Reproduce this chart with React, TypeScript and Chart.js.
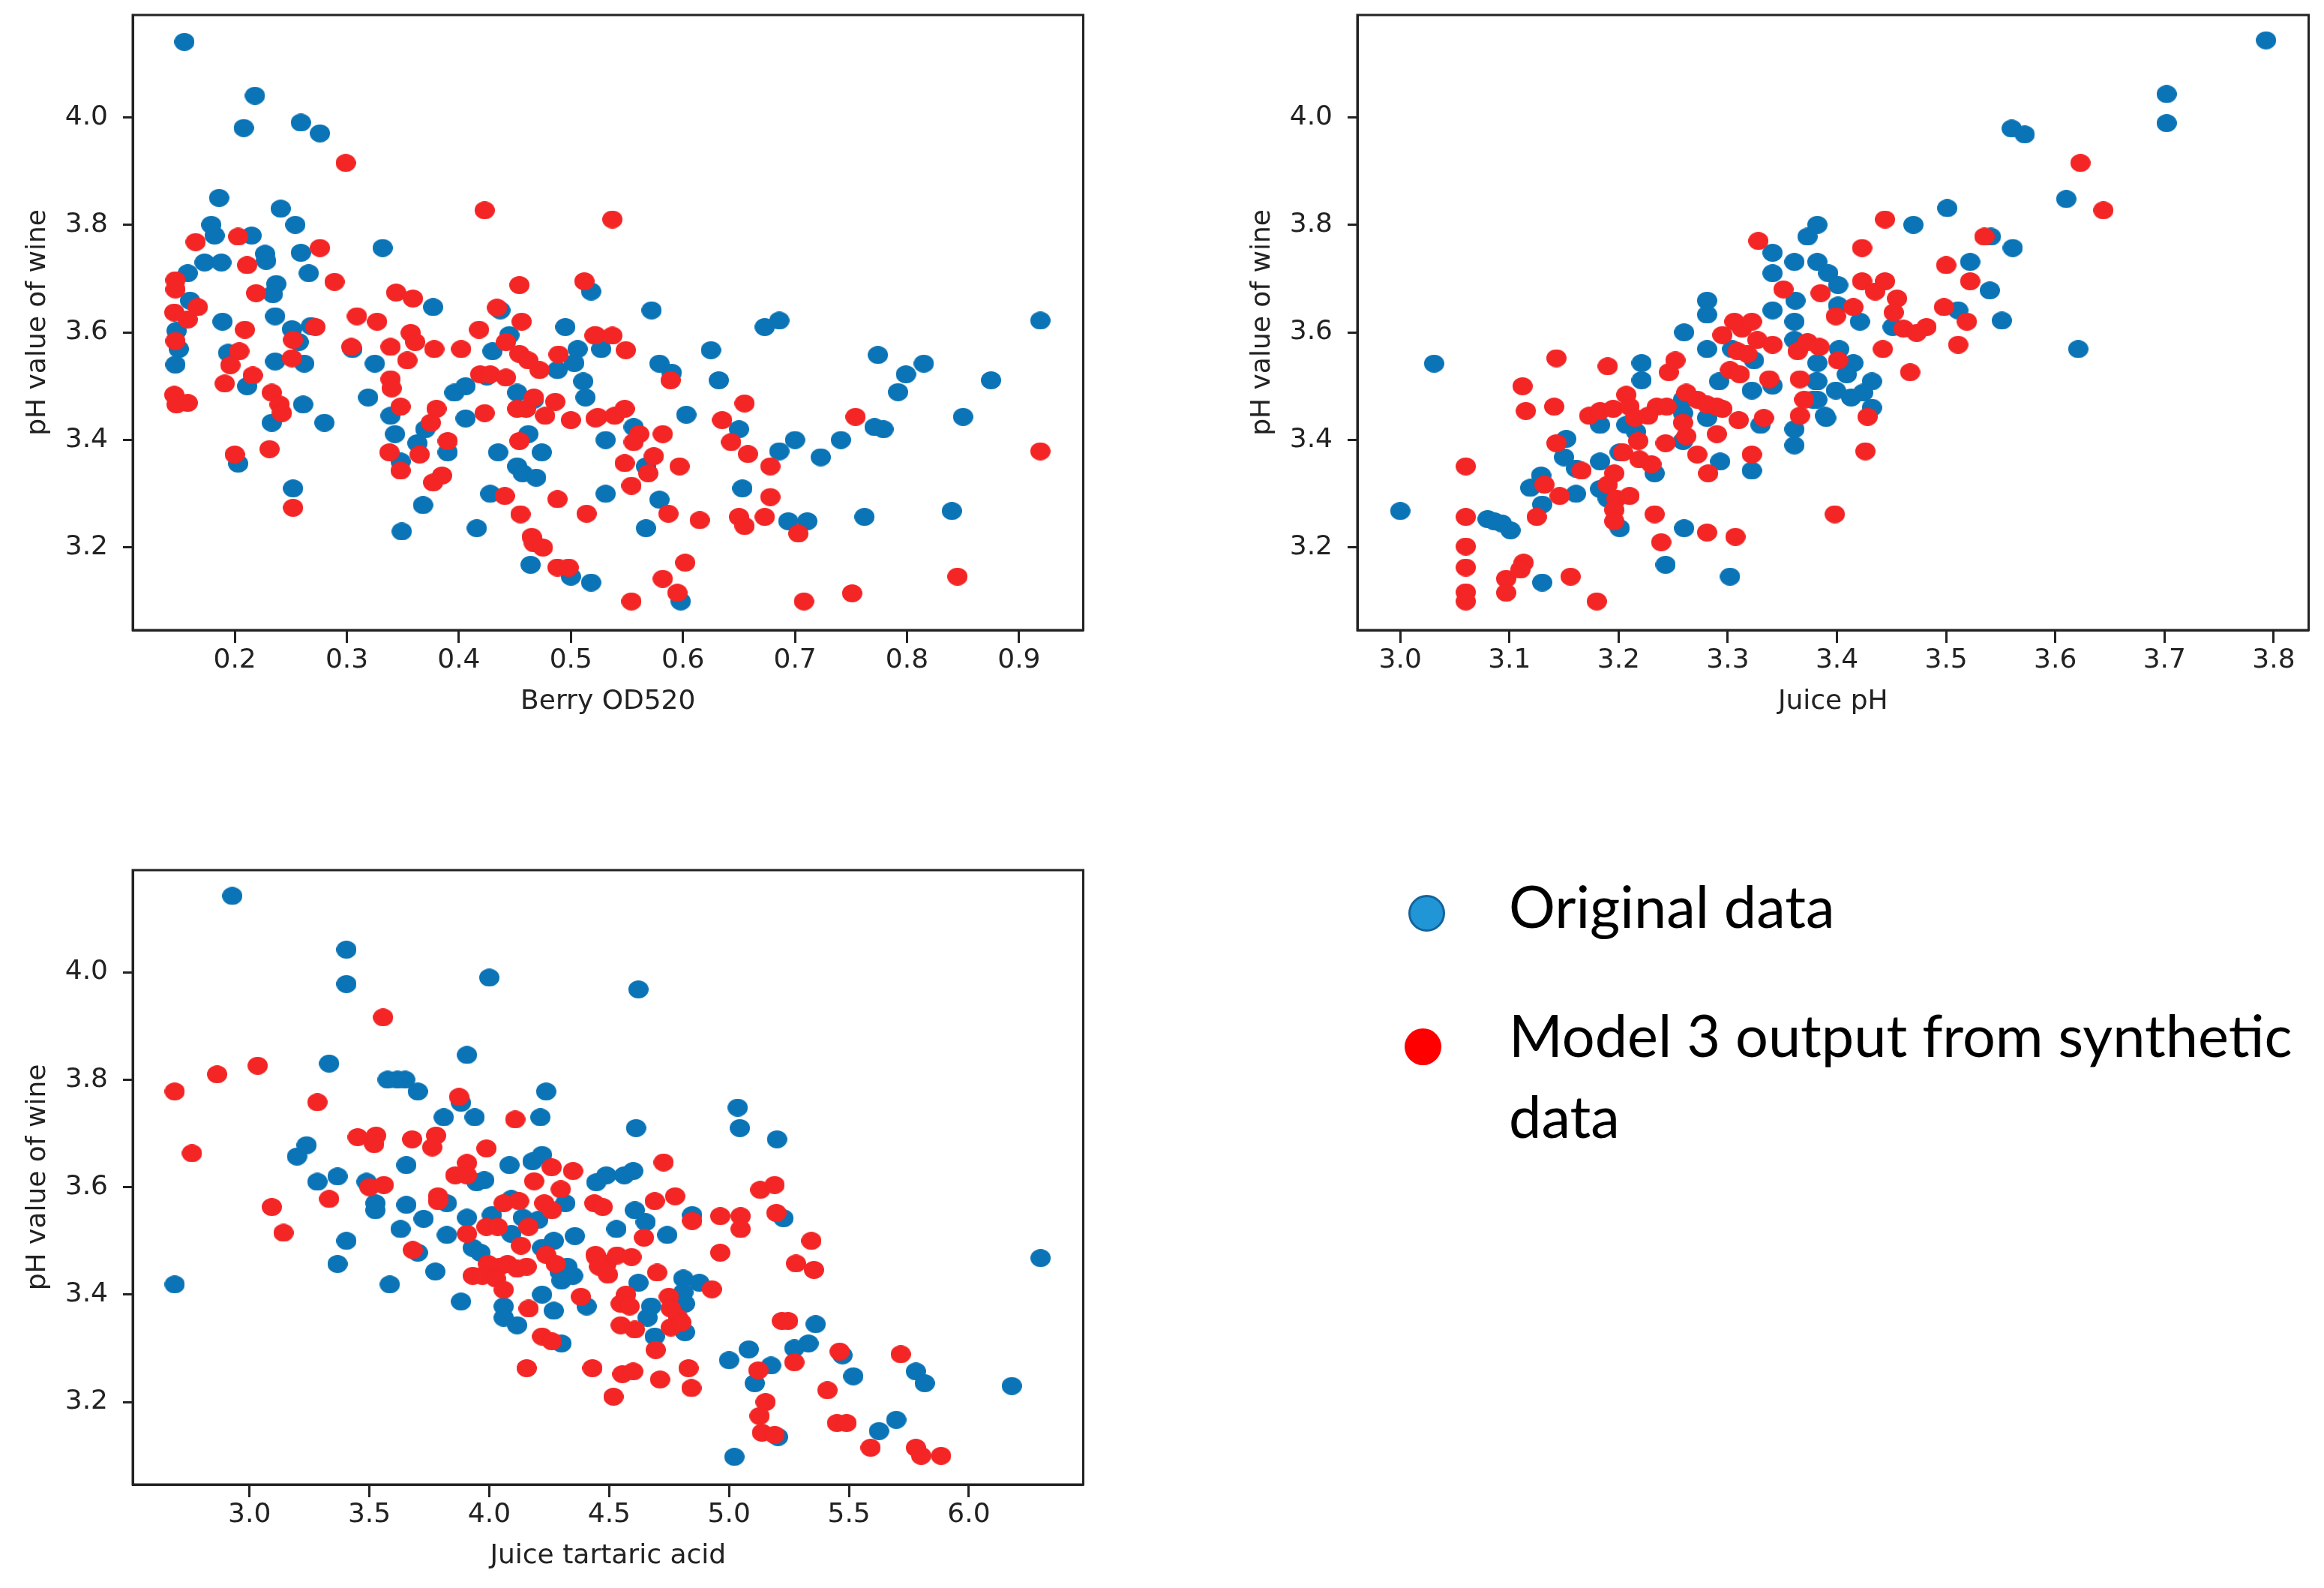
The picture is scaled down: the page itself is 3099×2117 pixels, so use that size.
import React, { useEffect, useRef } from "react";
import { Chart, registerables } from "chart.js";

Chart.register(...registerables);

// ---------------- DATA ----------------
const yTicks = [3.2, 3.4, 3.6, 3.8, 4.0];
const berryTicks = [0.2, 0.3, 0.4, 0.5, 0.6, 0.7, 0.8, 0.9];
const juicePhTicks = [3.0, 3.1, 3.2, 3.3, 3.4, 3.5, 3.6, 3.7, 3.8];
const tartaricTicks = [3.0, 3.5, 4.0, 4.5, 5.0, 5.5, 6.0];

const berryOriginal: [number, number][] = [
  [0.155,4.14],[0.218,4.04],[0.208,3.98],[0.259,3.99],[0.276,3.97],[0.186,3.85],[0.241,3.83],[0.254,3.80],[0.179,3.80],[0.182,3.78],
  [0.215,3.78],[0.173,3.73],[0.188,3.73],[0.227,3.746],[0.228,3.733],[0.259,3.748],[0.266,3.71],[0.158,3.71],[0.332,3.757],[0.237,3.69],
  [0.234,3.671],[0.236,3.63],[0.160,3.659],[0.189,3.62],[0.148,3.603],[0.150,3.569],[0.147,3.54],[0.194,3.562],[0.211,3.50],[0.236,3.546],
  [0.251,3.606],[0.257,3.582],[0.262,3.542],[0.268,3.612],[0.261,3.466],[0.280,3.432],[0.233,3.432],[0.203,3.356],[0.252,3.31],[0.305,3.569],
  [0.325,3.542],[0.319,3.479],[0.339,3.445],[0.343,3.411],[0.348,3.36],[0.349,3.23],[0.377,3.647],[0.363,3.394],[0.370,3.42],[0.390,3.377],
  [0.368,3.279],[0.396,3.488],[0.406,3.50],[0.406,3.44],[0.416,3.236],[0.425,3.518],[0.430,3.565],[0.437,3.641],[0.445,3.595],[0.435,3.377],
  [0.452,3.351],[0.457,3.338],[0.462,3.411],[0.469,3.33],[0.474,3.377],[0.428,3.30],[0.452,3.488],[0.467,3.475],[0.495,3.61],[0.488,3.53],
  [0.506,3.569],[0.503,3.543],[0.511,3.509],[0.513,3.479],[0.518,3.676],[0.500,3.146],[0.518,3.135],[0.464,3.168],
  [0.572,3.641],[0.527,3.569],[0.579,3.542],[0.590,3.525],[0.556,3.424],[0.531,3.40],[0.603,3.447],[0.625,3.567],[0.632,3.511],[0.650,3.42],
  [0.673,3.61],[0.686,3.622],[0.653,3.31],[0.686,3.379],[0.700,3.40],[0.723,3.368],[0.741,3.40],[0.774,3.558],[0.799,3.522],[0.815,3.542],
  [0.792,3.489],[0.771,3.424],[0.779,3.42],[0.875,3.511],[0.850,3.443],[0.919,3.622],[0.840,3.268],[0.762,3.257],[0.694,3.249],[0.711,3.249],
  [0.531,3.30],[0.567,3.236],[0.579,3.289],[0.567,3.351],[0.598,3.10],
];

const berryModel: [number, number][] = [
  [0.299,3.915],[0.423,3.827],[0.165,3.768],[0.203,3.778],[0.211,3.725],[0.276,3.757],[0.289,3.694],[0.219,3.673],[0.147,3.697],[0.147,3.68],
  [0.146,3.637],[0.158,3.624],[0.167,3.647],[0.147,3.584],[0.209,3.605],[0.204,3.565],[0.196,3.539],[0.191,3.505],[0.216,3.52],[0.146,3.484],
  [0.148,3.466],[0.158,3.469],[0.233,3.488],[0.240,3.466],[0.242,3.45],[0.252,3.586],[0.251,3.552],[0.272,3.61],[0.309,3.63],[0.327,3.62],
  [0.304,3.573],[0.344,3.674],[0.359,3.663],[0.339,3.573],[0.357,3.599],[0.361,3.582],[0.354,3.548],[0.378,3.569],[0.339,3.513],[0.340,3.496],
  [0.348,3.462],[0.338,3.377],[0.348,3.343],[0.365,3.373],[0.380,3.458],[0.375,3.432],[0.390,3.398],[0.377,3.321],[0.385,3.334],[0.402,3.569],
  [0.418,3.605],[0.434,3.646],[0.454,3.688],[0.456,3.62],[0.442,3.582],[0.423,3.45],[0.419,3.522],[0.428,3.522],[0.442,3.516],[0.454,3.56],
  [0.462,3.548],[0.472,3.53],[0.452,3.458],[0.460,3.458],[0.467,3.479],[0.477,3.445],[0.486,3.471],[0.489,3.559],[0.500,3.437],[0.512,3.695],
  [0.522,3.595],[0.522,3.44],[0.454,3.398],[0.441,3.296],[0.455,3.262],[0.488,3.29],[0.514,3.263],[0.465,3.22],[0.467,3.208],[0.475,3.20],
  [0.488,3.163],[0.498,3.163],[0.200,3.373],[0.231,3.383],[0.252,3.274],
  [0.537,3.81],[0.521,3.594],[0.537,3.594],[0.549,3.567],[0.589,3.511],[0.524,3.443],[0.539,3.445],[0.548,3.458],[0.561,3.411],[0.556,3.396],
  [0.582,3.411],[0.574,3.37],[0.548,3.357],[0.569,3.338],[0.554,3.315],[0.597,3.351],[0.635,3.437],[0.655,3.468],[0.643,3.396],[0.658,3.374],
  [0.678,3.351],[0.678,3.294],[0.587,3.263],[0.615,3.251],[0.650,3.257],[0.655,3.24],[0.673,3.257],[0.703,3.226],[0.754,3.443],[0.919,3.379],
  [0.845,3.146],[0.751,3.115],[0.708,3.10],[0.554,3.10],[0.582,3.142],[0.595,3.116],[0.602,3.172],
];

const juicePhOriginal: [number, number][] = [
  [3.031,3.542],[3.0,3.268],[3.08,3.253],[3.086,3.249],[3.093,3.245],[3.101,3.232],[3.13,3.135],[3.119,3.311],[3.129,3.334],[3.13,3.28],
  [3.152,3.402],[3.15,3.368],[3.161,3.347],[3.161,3.30],[3.183,3.36],[3.183,3.428],[3.183,3.309],[3.19,3.291],[3.201,3.377],[3.201,3.236],
  [3.207,3.428],[3.221,3.543],[3.221,3.511],[3.216,3.415],[3.233,3.338],[3.243,3.168],[3.26,3.60],[3.26,3.236],[3.259,3.45],[3.259,3.475],
  [3.259,3.398],[3.281,3.659],[3.281,3.633],[3.281,3.569],[3.281,3.441],[3.292,3.509],[3.293,3.36],[3.302,3.146],[3.304,3.569],[3.322,3.492],
  [3.324,3.548],[3.322,3.343],[3.33,3.428],[3.341,3.748],[3.341,3.71],[3.341,3.641],[3.341,3.501],[3.361,3.731],[3.362,3.659],[3.361,3.62],
  [3.361,3.586],[3.361,3.42],[3.361,3.39],[3.373,3.778],[3.382,3.80],[3.382,3.731],[3.392,3.71],[3.401,3.688],[3.382,3.543],[3.382,3.509],
  [3.382,3.475],[3.39,3.441],[3.401,3.65],
  [3.793,4.143],[3.702,4.043],[3.702,3.989],[3.56,3.979],[3.572,3.968],[3.61,3.848],[3.501,3.831],[3.47,3.80],[3.541,3.778],[3.561,3.757],
  [3.522,3.731],[3.54,3.678],[3.511,3.641],[3.551,3.622],[3.621,3.569],[3.421,3.62],[3.451,3.61],[3.402,3.569],[3.415,3.543],[3.409,3.522],
  [3.432,3.509],[3.399,3.492],[3.413,3.479],[3.424,3.488],[3.432,3.46],[3.389,3.445],[3.381,3.509],[3.378,3.475],
];

const juicePhModel: [number, number][] = [
  [3.143,3.552],[3.112,3.50],[3.115,3.454],[3.141,3.462],[3.143,3.394],[3.06,3.351],[3.06,3.257],[3.06,3.202],[3.06,3.163],[3.06,3.117],
  [3.06,3.10],[3.097,3.142],[3.097,3.116],[3.113,3.172],[3.11,3.159],[3.125,3.257],[3.132,3.317],[3.146,3.296],[3.156,3.146],[3.166,3.343],
  [3.18,3.10],[3.173,3.445],[3.183,3.454],[3.195,3.458],[3.19,3.537],[3.207,3.484],[3.21,3.462],[3.215,3.441],[3.196,3.338],[3.19,3.317],
  [3.198,3.291],[3.196,3.27],[3.196,3.249],[3.21,3.296],[3.204,3.377],[3.218,3.398],[3.219,3.364],[3.23,3.355],[3.235,3.462],[3.227,3.445],
  [3.244,3.462],[3.246,3.526],[3.252,3.548],[3.233,3.262],[3.239,3.21],[3.243,3.394],[3.259,3.432],[3.262,3.407],[3.262,3.488],[3.272,3.475],
  [3.281,3.466],[3.29,3.462],[3.295,3.458],[3.272,3.373],[3.282,3.338],[3.29,3.411],[3.281,3.228],[3.307,3.22],[3.295,3.595],[3.306,3.62],
  [3.313,3.607],[3.322,3.62],[3.309,3.565],[3.318,3.56],[3.327,3.586],[3.341,3.577],[3.302,3.53],[3.311,3.522],[3.31,3.437],[3.333,3.441],
  [3.338,3.513],[3.322,3.373],[3.328,3.77],[3.351,3.68],[3.385,3.673],[3.364,3.565],[3.373,3.582],[3.384,3.573],[3.366,3.513],[3.37,3.475],
  [3.366,3.445],[3.398,3.262],[3.401,3.548],
  [3.623,3.915],[3.644,3.827],[3.444,3.81],[3.535,3.778],[3.423,3.757],[3.50,3.725],[3.522,3.695],[3.423,3.695],[3.435,3.676],[3.444,3.695],
  [3.455,3.663],[3.452,3.637],[3.415,3.647],[3.399,3.63],[3.498,3.647],[3.519,3.62],[3.461,3.607],[3.473,3.599],[3.482,3.61],[3.511,3.577],
  [3.442,3.569],[3.467,3.526],[3.428,3.443],[3.426,3.379],
];

const tartaricOriginal: [number, number][] = [
  [2.928,4.142],[3.404,4.042],[3.404,3.978],[4.0,3.99],[3.332,3.83],[3.907,3.846],[4.237,3.778],[3.576,3.80],[3.617,3.80],[3.649,3.80],
  [3.702,3.778],[3.81,3.73],[3.882,3.757],[3.939,3.73],[4.213,3.73],[3.198,3.657],[3.238,3.678],[3.283,3.61],[3.367,3.62],[3.488,3.61],
  [3.525,3.57],[3.525,3.557],[3.654,3.641],[3.654,3.567],[3.726,3.541],[3.63,3.522],[3.702,3.478],[3.775,3.443],[3.585,3.419],[3.404,3.50],
  [3.367,3.457],[2.688,3.419],[3.882,3.387],[3.823,3.57],[3.823,3.511],[3.907,3.543],[3.947,3.609],[3.979,3.613],[3.931,3.487],[3.963,3.478],
  [4.011,3.548],[4.084,3.641],[4.092,3.578],[4.092,3.513],[4.06,3.378],[4.06,3.357],[4.116,3.343],[4.18,3.648],[4.22,3.66],[4.14,3.543],
  [4.204,3.539],[4.22,3.40],[4.269,3.37],[4.301,3.309],[4.22,3.487],[4.269,3.50],[4.317,3.57],[4.357,3.509],[4.293,3.443],[4.325,3.452],
  [4.349,3.435],[4.301,3.426],[4.406,3.378],[4.446,3.609],
  [4.622,3.968],[5.036,3.748],[5.045,3.71],[5.2,3.689],[4.612,3.71],[4.488,3.622],[4.563,3.622],[4.6,3.63],[4.607,3.557],[4.652,3.535],
  [4.53,3.522],[4.742,3.511],[4.846,3.548],[5.227,3.542],[4.622,3.422],[4.809,3.43],[4.809,3.404],[4.816,3.383],[4.876,3.422],[4.675,3.378],
  [4.66,3.357],[4.69,3.322],[4.816,3.33],[5.361,3.345],[5.331,3.309],[5.272,3.30],[5.082,3.298],[5.0,3.278],[5.175,3.268],[5.107,3.235],
  [5.473,3.287],[5.518,3.248],[5.779,3.257],[5.816,3.235],[6.179,3.23],[6.299,3.468],[5.697,3.167],[5.625,3.146],[5.204,3.135],[5.022,3.098],
];

const tartaricModel: [number, number][] = [
  [3.557,3.916],[2.688,3.778],[2.865,3.81],[3.034,3.826],[3.283,3.758],[2.76,3.663],[3.093,3.563],[3.142,3.515],[3.332,3.578],[3.451,3.693],
  [3.528,3.696],[3.52,3.68],[3.678,3.689],[3.778,3.696],[3.762,3.674],[3.5,3.60],[3.56,3.604],[3.786,3.583],[3.786,3.574],[3.874,3.768],
  [4.108,3.726],[3.988,3.672],[3.907,3.645],[3.858,3.622],[3.907,3.622],[3.681,3.483],[3.907,3.513],[3.988,3.526],[4.035,3.526],[4.06,3.57],
  [4.124,3.574],[4.164,3.526],[4.132,3.491],[4.187,3.611],[4.26,3.637],[4.349,3.63],[4.298,3.596],[4.229,3.57],[4.261,3.557],[4.237,3.474],
  [4.277,3.457],[3.931,3.435],[3.995,3.457],[4.043,3.452],[4.076,3.457],[4.116,3.448],[4.156,3.452],[3.971,3.435],[4.027,3.43],[4.06,3.409],
  [4.164,3.374],[4.22,3.322],[4.261,3.313],[4.156,3.263],[4.43,3.263],[4.382,3.396],[4.438,3.57],[4.446,3.47],
  [4.727,3.646],[4.775,3.583],[4.69,3.574],[4.473,3.563],[4.846,3.537],[4.963,3.546],[5.048,3.546],[5.048,3.522],[5.13,3.595],[5.19,3.604],
  [5.197,3.552],[4.645,3.506],[4.963,3.478],[5.343,3.50],[5.279,3.458],[5.354,3.446],[4.443,3.474],[4.488,3.457],[4.533,3.473],[4.593,3.47],
  [4.458,3.452],[4.495,3.437],[4.7,3.441],[4.928,3.41],[4.57,3.40],[4.548,3.383],[4.585,3.378],[4.749,3.396],[4.757,3.374],[4.787,3.357],
  [4.757,3.339],[4.801,3.348],[4.548,3.343],[4.607,3.335],[4.694,3.297],[5.22,3.351],[5.246,3.351],[5.272,3.274],[5.461,3.294],[5.716,3.289],
  [5.122,3.259],[4.555,3.252],[4.6,3.257],[4.712,3.242],[4.831,3.263],[4.843,3.226],[4.518,3.21],[5.41,3.222],[5.152,3.20],[5.127,3.174],
  [5.137,3.143],[5.19,3.139],[5.45,3.161],[5.49,3.161],[5.59,3.115],[5.779,3.115],[5.801,3.10],[5.884,3.10],
];

// ---------------- STYLE ----------------
const BLUE = "#0a74b6";
const RED = "#f42525";
const INK = "#222222";
const AXIS_FONT = "'DejaVu Sans', sans-serif";
const FONT_SIZE = 36;

function makeDot(color: string, w: number, h: number): HTMLCanvasElement {
  const c = document.createElement("canvas");
  c.width = w;
  c.height = h;
  const ctx = c.getContext("2d")!;
  ctx.fillStyle = color;
  ctx.beginPath();
  ctx.ellipse(w / 2, h / 2, w / 2, h / 2, 0, 0, Math.PI * 2);
  ctx.fill();
  return c;
}

const framePlugin = {
  id: "frame",
  afterDraw(chart: any) {
    const { ctx, chartArea: a } = chart;
    ctx.save();
    ctx.strokeStyle = INK;
    ctx.lineWidth = 3;
    ctx.strokeRect(a.left, a.top, a.right - a.left, a.bottom - a.top);
    ctx.restore();
  },
};

type PanelProps = {
  left: number;
  top: number;
  width: number;
  height: number;
  pad: { left: number; top: number; right: number; bottom: number };
  xMin: number;
  xMax: number;
  xTicks: number[];
  xTitle: string;
  original: [number, number][];
  model: [number, number][];
};

function Panel(p: PanelProps) {
  const ref = useRef<HTMLCanvasElement>(null);
  useEffect(() => {
    const blueDot = makeDot(BLUE, 27, 24);
    const redDot = makeDot(RED, 27, 24);
    const font = { family: AXIS_FONT, size: FONT_SIZE };
    const chart = new Chart(ref.current!, {
      type: "scatter",
      data: {
        datasets: [
          {
            label: "Original data",
            data: p.original.map(([x, y]) => ({ x, y })),
            pointStyle: blueDot as any,
            pointRadius: 13,
            order: 1,
          },
          {
            label: "Model 3 output from synthetic data",
            data: p.model.map(([x, y]) => ({ x, y })),
            pointStyle: redDot as any,
            pointRadius: 13,
            order: 0,
          },
        ],
      },
      options: {
        animation: false,
        responsive: false,
        devicePixelRatio: 1,
        layout: { padding: p.pad },
        plugins: { legend: { display: false }, tooltip: { enabled: false } },
        scales: {
          x: {
            type: "linear",
            min: p.xMin,
            max: p.xMax,
            afterBuildTicks: (s: any) => {
              s.ticks = p.xTicks.map((v) => ({ value: v }));
            },
            afterFit: (s: any) => {
              s.height = 117;
              s.paddingLeft = 0;
              s.paddingRight = 0;
            },
            ticks: {
              callback: (v: any) => Number(v).toFixed(1),
              font,
              color: INK,
              padding: 2,
              maxRotation: 0,
              autoSkip: false,
            },
            grid: {
              drawOnChartArea: false,
              drawTicks: true,
              tickLength: 17,
              tickWidth: 3,
              tickColor: INK,
            },
            border: { display: true, color: INK, width: 3 },
            title: {
              display: true,
              text: p.xTitle,
              font,
              color: INK,
              padding: { top: 0, bottom: 0 },
            },
          },
          y: {
            type: "linear",
            min: 3.0466,
            max: 4.19,
            afterBuildTicks: (s: any) => {
              s.ticks = yTicks.map((v) => ({ value: v }));
            },
            afterFit: (s: any) => {
              s.width = 177;
              s.paddingTop = 0;
              s.paddingBottom = 0;
            },
            ticks: {
              callback: (v: any) => Number(v).toFixed(1),
              font,
              color: INK,
              padding: 20,
              autoSkip: false,
            },
            grid: {
              drawOnChartArea: false,
              drawTicks: true,
              tickLength: 13,
              tickWidth: 3,
              tickColor: INK,
            },
            border: { display: true, color: INK, width: 3 },
            title: {
              display: true,
              text: "pH value of wine",
              font,
              color: INK,
              padding: { top: 29, bottom: 0 },
            },
          },
        },
      },
      plugins: [framePlugin],
    } as any);
    return () => chart.destroy();
  }, []);
  return (
    <canvas
      ref={ref}
      width={p.width}
      height={p.height}
      style={{ position: "absolute", left: p.left, top: p.top, width: p.width, height: p.height }}
    />
  );
}

const LEGEND_FONT = "Lato, 'Open Sans', sans-serif";
const LEGEND_SIZE = 77.5;

export default function App() {
  useEffect(() => {
    document.body.style.margin = "0";
  }, []);
  return (
    <div
      style={{
        position: "relative",
        width: 3099,
        height: 2117,
        overflow: "hidden",
        background: "#ffffff",
      }}
    >
      <Panel
        left={0}
        top={0}
        width={1500}
        height={1000}
        pad={{ left: 0, top: 20, right: 55.5, bottom: 43 }}
        xMin={0.1089}
        xMax={0.9573}
        xTicks={berryTicks}
        xTitle="Berry OD520"
        original={berryOriginal}
        model={berryModel}
      />
      <Panel
        left={1633}
        top={0}
        width={1466}
        height={1000}
        pad={{ left: 0, top: 20, right: 20.5, bottom: 43 }}
        xMin={2.9607}
        xMax={3.832}
        xTicks={juicePhTicks}
        xTitle="Juice pH"
        original={juicePhOriginal}
        model={juicePhModel}
      />
      <Panel
        left={0}
        top={1140}
        width={1500}
        height={977}
        pad={{ left: 0, top: 20, right: 55.5, bottom: 21 }}
        xMin={2.513}
        xMax={6.477}
        xTicks={tartaricTicks}
        xTitle="Juice tartaric acid"
        original={tartaricOriginal}
        model={tartaricModel}
      />
      {/* legend */}
      <div
        style={{
          position: "absolute",
          left: 1902 - 24.5,
          top: 1217 - 24.5,
          width: 49,
          height: 49,
          borderRadius: "50%",
          background: "#2196d6",
          border: "3px solid #15639c",
          boxSizing: "border-box",
        }}
      />
      <div
        style={{
          position: "absolute",
          left: 1897 - 24.5,
          top: 1395 - 24.5,
          width: 49,
          height: 49,
          borderRadius: "50%",
          background: "#ff0000",
        }}
      />
      <div
        style={{
          position: "absolute",
          left: 2012,
          top: 1169,
          fontFamily: LEGEND_FONT,
          fontSize: LEGEND_SIZE,
          lineHeight: 1,
          color: "#000",
          whiteSpace: "nowrap",
        }}
      >
        Original data
      </div>
      <div
        style={{
          position: "absolute",
          left: 2012,
          top: 1326,
          fontFamily: LEGEND_FONT,
          fontSize: LEGEND_SIZE,
          lineHeight: "108px",
          color: "#000",
          whiteSpace: "nowrap",
        }}
      >
        Model 3 output from synthetic
        <br />
        data
      </div>
    </div>
  );
}
